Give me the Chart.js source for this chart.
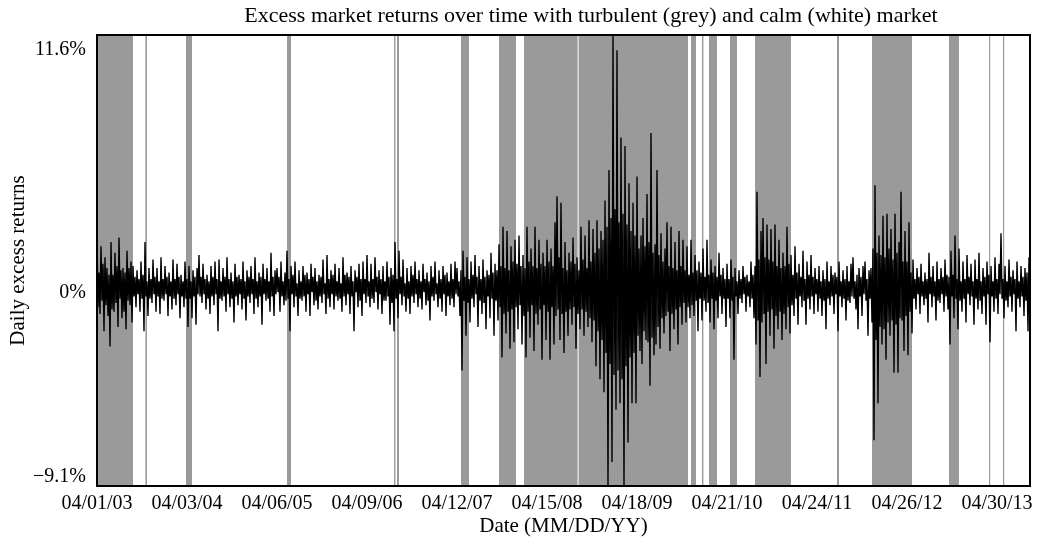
<!DOCTYPE html>
<html>
<head>
<meta charset="utf-8">
<title>Excess market returns</title>
<script src="https://cdn.jsdelivr.net/npm/chart.js@4.4.0/dist/chart.umd.min.js"></script>
<style>
  html, body { margin: 0; padding: 0; background: #fff; }
  #wrap { width: 1043px; height: 545px; }
</style>
</head>
<body>
<div id="wrap"><canvas id="chart" width="1043" height="545"></canvas></div>
<script>
const chartTitle = 'Excess market returns over time with turbulent (grey) and calm (white) market';
const tickLabels = ['04/01/03', '04/03/04', '04/06/05', '04/09/06', '04/12/07', '04/15/08',
                    '04/18/09', '04/21/10', '04/24/11', '04/26/12', '04/30/13'];
const pointsPerYear = 90;   // readings per year

// daily excess returns (%)
const returns2003 = [2.6, -0.9, 0.7, -1.2, 1.9, -0.6, 1.1, -2.0, 1.4, -0.8, 0.9, -1.3, 0.6, -2.7, 2.1, -1.0, 0.6, -1.1,
                     1.6, -0.7, 1.0, -1.8, 2.3, -0.5, 0.8, -1.4, 0.9, -1.1, 0.7, -1.9, 1.7, -0.6, 0.9, -0.8, 1.2, -1.6,
                     1.0, -0.4, 0.5, -0.9, 0.8, -0.3, 0.4, -1.1, 1.2, -0.5, 0.6, -2.0, 2.1, -0.4, 0.3, -1.3, 0.9, -0.5,
                     0.4, -0.7, 1.3, -0.3, 0.5, -1.1, 0.9, -0.4, 0.3, -1.2, 1.4, -0.5, 0.4, -0.6, 1.0, -0.3, 0.5, -1.3,
                     0.7, -0.4, 0.3, -1.0, 1.3, -0.5, 0.4, -0.8, 1.1, -0.3, 0.5, -1.4, 0.6, -0.4, 0.3, -0.9, 1.2, -0.5];
const returns2004 = [0.4, -1.8, 1.0, -0.5, 0.3, -1.4, 0.8, -0.4, 0.5, -1.7, 0.9, -0.3, 1.5, -0.4, 0.5, -0.7, 1.1, -0.3,
                     0.4, -1.0, 0.6, -0.5, 0.3, -1.2, 1.0, -0.4, 0.5, -0.8, 1.2, -0.3, 0.4, -2.0, 1.3, -0.5, 0.3, -0.6,
                     0.9, -0.4, 0.5, -1.1, 1.4, -0.3, 0.4, -0.9, 0.7, -0.5, 0.3, -1.6, 1.1, -0.4, 0.5, -0.8, 0.6, -0.3,
                     0.4, -1.0, 1.2, -0.5, 0.3, -1.5, 0.8, -0.4, 0.5, -0.7, 1.0, -0.3, 0.4, -1.2, 1.4, -0.5, 0.3, -0.9,
                     0.7, -0.4, 0.5, -1.7, 1.1, -0.3, 0.4, -0.6, 0.9, -0.5, 0.3, -1.1, 1.6, -0.4, 0.5, -1.3, 0.8, -0.3];
const returns2005 = [0.9, -0.2, 0.5, -1.1, 1.2, -0.4, 0.3, -0.8, 0.7, -0.6, 1.7, -0.5, 0.4, -2.0, 1.0, -0.3, 0.6, -0.9,
                     1.2, -0.4, 0.2, -1.3, 0.8, -0.5, 0.3, -0.6, 1.0, -0.4, 0.6, -1.1, 0.7, -0.3, 0.4, -1.3, 1.1, -0.2,
                     0.5, -0.8, 0.9, -0.6, 0.3, -1.0, 0.6, -0.4, 0.5, -0.7, 1.3, -0.3, 0.2, -1.2, 1.5, -0.5, 0.4, -0.9,
                     0.8, -0.3, 0.6, -1.0, 1.1, -0.4, 0.3, -0.6, 0.9, -0.5, 0.2, -1.1, 1.4, -0.4, 0.6, -0.8, 0.7, -0.3,
                     0.5, -1.2, 1.0, -0.4, 0.3, -2.0, 0.8, -0.2, 0.5, -0.9, 1.1, -0.6, 0.4, -1.3, 1.2, -0.3, 0.4, -0.7];
const returns2006 = [1.5, -0.4, 0.3, -0.9, 1.1, -0.5, 0.4, -0.7, 1.4, -0.2, 0.5, -1.0, 0.8, -0.3, 0.4, -1.2, 1.0, -0.6,
                     0.3, -0.6, 1.2, -0.4, 0.5, -1.7, 0.9, -0.7, 0.6, -2.0, 2.1, -0.5, 0.4, -1.4, 1.7, -0.3, 0.5, -0.8,
                     1.3, -0.4, 0.2, -1.1, 0.9, -0.5, 0.3, -1.2, 1.0, -0.4, 0.6, -0.7, 1.2, -0.3, 0.4, -0.9, 0.8, -0.5,
                     0.3, -1.0, 1.1, -0.2, 0.4, -0.8, 0.7, -0.6, 0.3, -1.5, 1.0, -0.4, 0.5, -0.6, 1.2, -0.3, 0.2, -0.9,
                     0.8, -0.5, 0.4, -1.1, 1.0, -0.3, 0.6, -1.3, 0.7, -0.4, 0.3, -0.8, 1.1, -0.5, 0.4, -0.9, 1.2, -0.3];
const returns2007 = [0.9, -0.4, 0.3, -1.3, 0.8, -3.8, 1.7, -0.6, 0.5, -2.2, 1.4, -0.7, 0.4, -1.6, 1.2, -0.5, 0.6, -0.9,
                     1.5, -0.3, 0.5, -1.8, 1.0, -0.6, 0.4, -1.2, 1.3, -0.7, 0.5, -1.9, 0.8, -0.4, 0.6, -1.4, 1.6, -0.5,
                     0.7, -2.2, 1.1, -0.6, 0.8, -1.5, 2.0, -0.9, 1.0, -3.2, 2.8, -1.2, 0.9, -2.1, 2.6, -1.1, 0.8, -2.8,
                     1.9, -1.0, 1.2, -2.5, 2.2, -0.9, 1.1, -1.9, 2.4, -0.8, 1.0, -2.6, 1.5, -1.3, 0.9, -3.2, 2.8, -1.1,
                     1.2, -2.3, 1.8, -0.8, 1.0, -2.9, 2.8, -1.2, 0.9, -1.7, 2.2, -1.0, 1.1, -3.3, 1.6, -0.8, 1.0, -2.4];
const returns2008 = [2.2, -1.1, 1.2, -3.3, 1.8, -0.9, 1.0, -2.6, 3.0, -1.3, 4.2, -1.0, 1.4, -2.4, 3.9, -1.2, 0.9, -3.0,
                     2.1, -1.1, 0.8, -2.2, 1.6, -1.0, 1.2, -1.7, 2.3, -0.9, 1.1, -2.8, 1.4, -1.2, 0.8, -1.9, 2.8, -1.0,
                     1.3, -2.2, 2.4, -1.1, 0.9, -1.8, 3.1, -1.4, 1.2, -2.5, 2.7, -1.5, 1.6, -3.6, 3.1, -2.0, 1.8, -4.2,
                     2.6, -2.4, 2.2, -4.8, 4.0, -3.0, 2.8, -9.1, 5.4, -3.5, 3.2, -8.0, 11.6, -4.0, 3.6, -5.6, 10.9, -3.8,
                     3.0, -5.3, 6.9, -4.2, 3.4, -9.1, 6.5, -3.6, 2.9, -7.1, 4.8, -3.2, 2.6, -5.3, 3.9, -3.0, 2.4, -5.3];
const returns2009 = [5.1, -2.2, 1.8, -2.9, 2.4, -3.5, 3.2, -2.0, 1.9, -2.4, 4.3, -2.5, 2.1, -4.5, 7.1, -2.3, 1.6, -3.1,
                     2.0, -2.6, 5.4, -1.8, 1.5, -2.8, 2.5, -1.4, 1.2, -2.1, 1.8, -1.3, 3.0, -1.1, 1.0, -2.9, 2.8, -1.2,
                     0.9, -1.9, 2.1, -1.0, 0.8, -2.6, 2.6, -0.9, 1.0, -1.7, 2.2, -0.7, 0.8, -1.6, 1.9, -0.9, 0.6, -1.4,
                     2.2, -0.8, 0.7, -1.3, 1.5, -0.6, 0.8, -2.0, 1.2, -0.5, 0.7, -1.5, 1.8, -0.6, 0.5, -1.1, 2.2, -0.7,
                     0.6, -1.6, 1.3, -0.5, 0.7, -1.9, 1.0, -0.6, 0.5, -1.4, 1.6, -0.4, 0.6, -1.2, 0.9, -0.5, 0.4, -1.8];
const returns2010 = [1.1, -0.5, 0.4, -1.4, 1.3, -0.6, 0.5, -3.3, 0.9, -0.4, 0.3, -1.2, 0.8, -0.5, 0.4, -0.7, 1.0, -0.3,
                     0.5, -1.1, 0.6, -0.4, 0.3, -0.9, 1.2, -0.5, 0.6, -1.4, 1.0, -2.6, 4.4, -1.5, 1.3, -4.1, 2.6, -1.6,
                     3.2, -1.2, 1.4, -3.5, 2.9, -1.1, 1.3, -2.2, 2.7, -1.0, 1.2, -2.8, 2.9, -1.3, 1.0, -1.9, 2.2, -1.1,
                     0.9, -2.4, 1.6, -1.2, 1.0, -1.9, 2.8, -0.9, 1.1, -2.1, 1.5, -0.8, 0.6, -1.3, 1.9, -0.5, 0.7, -1.7,
                     1.1, -0.4, 0.5, -0.9, 1.7, -0.6, 0.4, -1.7, 1.2, -0.5, 0.6, -1.0, 1.5, -0.4, 0.5, -1.2, 0.9, -0.3];
const returns2011 = [0.4, -1.1, 1.0, -0.5, 0.3, -1.3, 0.8, -0.6, 0.4, -1.9, 1.2, -0.5, 0.3, -0.8, 1.0, -0.4, 0.6, -1.2,
                     0.7, -0.3, 0.5, -2.0, 1.2, -0.4, 0.3, -0.9, 0.8, -0.5, 0.4, -1.5, 1.0, -0.6, 0.3, -0.7, 1.1, -0.4,
                     1.4, -0.5, 0.3, -1.0, 0.6, -1.9, 0.9, -0.4, 0.5, -1.3, 1.0, -0.3, 1.2, -0.6, 0.4, -2.2, 0.8, -0.5,
                     0.9, -1.6, 1.8, -7.0, 4.7, -2.4, 1.6, -5.3, 2.4, -1.8, 1.5, -2.6, 3.3, -1.9, 1.4, -3.3, 3.4, -1.6,
                     1.8, -2.2, 2.7, -1.5, 1.3, -3.9, 3.4, -1.7, 1.6, -3.9, 2.1, -1.4, 4.4, -1.5, 1.2, -2.9, 2.6, -1.3];
const returns2012 = [1.2, -3.1, 3.0, -1.1, 0.7, -2.1, 1.3, -0.5, 0.4, -1.0, 0.9, -0.3, 0.5, -1.2, 1.1, -0.4, 0.3, -0.8,
                     0.7, -0.5, 0.4, -1.6, 1.6, -0.3, 0.5, -0.9, 1.0, -0.4, 0.3, -1.5, 1.2, -0.6, 0.4, -0.7, 0.9, -0.3,
                     0.5, -1.1, 1.3, -0.4, 0.6, -1.0, 0.5, -2.6, 1.7, -0.4, 0.6, -1.4, 2.4, -0.5, 0.4, -1.9, 1.8, -0.6,
                     0.3, -1.1, 1.2, -0.5, 0.4, -1.6, 1.5, -0.3, 0.5, -0.8, 1.1, -0.4, 0.3, -1.7, 1.3, -0.5, 0.4, -1.0,
                     1.6, -0.6, 0.3, -1.2, 0.9, -0.4, 0.5, -1.7, 1.2, -0.3, 0.6, -2.5, 1.0, -0.4, 0.3, -1.1, 1.4, -0.5];
const returns2013 = [0.4, -1.2, 1.1, -0.3, 2.5, -0.5, 0.4, -1.4, 1.0, -0.6, 0.3, -0.9, 1.3, -0.4, 0.5, -1.1, 0.8, -0.3,
                     0.4, -2.0, 1.2, -0.5, 0.3, -0.9, 1.0, -0.4, 0.5, -1.3, 0.9, -0.6, 0.7, -2.0, 1.4];

// turbulent regimes (grey), in reading index
const turbulentStart = [0, 48.4, 89, 190, 297, 300, 364, 402, 427, 481.6, 594, 605, 612, 633, 658, 740, 775, 852, 892, 906];
const turbulentEnd   = [36, 50, 95, 194, 298.4, 302, 372, 419, 480.6, 591, 599, 606.4, 620, 640, 694, 742, 815, 862, 893.2, 907.2];

const yMin = -9.1;
const yMax = 11.6;
const yTickValues = [yMin, 0, yMax];
const yTickLabels = ['\u22129.1%', '0%', '11.6%'];

const returns = [].concat(returns2003, returns2004, returns2005, returns2006, returns2007, returns2008,
                          returns2009, returns2010, returns2011, returns2012, returns2013);
const points = returns.map((v, i) => ({ x: i, y: v }));
const tickPositions = tickLabels.map((_, i) => i * pointsPerYear);

const serif = '"Liberation Serif", "Times New Roman", serif';

const regimeShading = {
    id: 'regimeShading',
    beforeDatasetsDraw(chart) {
        const { ctx, chartArea, scales: { x } } = chart;
        ctx.save();
        ctx.fillStyle = '#9a9a9a';
        turbulentStart.forEach((s, i) => {
            const x1 = x.getPixelForValue(s);
            const x2 = x.getPixelForValue(turbulentEnd[i]);
            ctx.fillRect(x1, chartArea.top, Math.max(x2 - x1, 1), chartArea.bottom - chartArea.top);
        });
        ctx.restore();
    }
};

const frameAndLabels = {
    id: 'frameAndLabels',
    afterDraw(chart) {
        const { ctx, chartArea, scales: { y } } = chart;
        ctx.save();
        ctx.strokeStyle = '#000';
        ctx.lineWidth = 2;
        ctx.strokeRect(chartArea.left, chartArea.top, chartArea.right - chartArea.left, chartArea.bottom - chartArea.top);

        // y labels: the end ones sit inside the frame like the original
        ctx.fillStyle = '#000';
        ctx.font = '20px ' + serif;
        ctx.textAlign = 'right';
        ctx.textBaseline = 'alphabetic';
        yTickValues.forEach((v, i) => {
            let py = y.getPixelForValue(v);
            if (v === yMin) py -= 4;
            else if (v === yMax) py += 20;
            else py += 10;
            ctx.fillText(yTickLabels[i], chartArea.left - 11, py);
        });

        // title, placed as in the source figure
        ctx.font = '22px ' + serif;
        ctx.textAlign = 'center';
        ctx.fillText(chartTitle, 591, 22);
        ctx.restore();
    }
};

new Chart(document.getElementById('chart'), {
    type: 'line',
    data: {
        datasets: [{
            label: 'Daily excess returns',
            data: points,
            borderColor: '#000',
            borderWidth: 1.4,
            borderJoinStyle: 'bevel',
            pointRadius: 0,
            tension: 0,
            fill: false
        }]
    },
    options: {
        responsive: false,
        animation: false,
        layout: { padding: { top: 35, right: 13, bottom: 2, left: 0 } },
        plugins: {
            legend: { display: false },
            title: { display: false },
            tooltip: { enabled: false }
        },
        scales: {
            x: {
                type: 'linear',
                min: 0,
                max: returns.length,
                grid: { display: false, drawTicks: false },
                border: { display: false },
                afterBuildTicks(scale) {
                    scale.ticks = tickPositions.map(v => ({ value: v }));
                },
                afterFit(scale) { scale.height = 57; },
                ticks: {
                    autoSkip: false,
                    maxRotation: 0,
                    padding: 6,
                    color: '#000',
                    font: { family: serif, size: 20 },
                    callback: (v, i) => tickLabels[i]
                },
                title: {
                    display: true,
                    text: 'Date (MM/DD/YY)',
                    color: '#000',
                    font: { family: serif, size: 21 },
                    padding: { top: 0, bottom: 4 }
                }
            },
            y: {
                min: yMin,
                max: yMax,
                grid: { display: false, drawTicks: false },
                border: { display: false },
                ticks: { display: false },
                afterFit(scale) { scale.width = 97; },
                title: {
                    display: true,
                    text: 'Daily excess returns',
                    color: '#000',
                    font: { family: serif, size: 21 },
                    padding: { top: 6, bottom: 0 }
                }
            }
        }
    },
    plugins: [regimeShading, frameAndLabels]
});
</script>
</body>
</html>
